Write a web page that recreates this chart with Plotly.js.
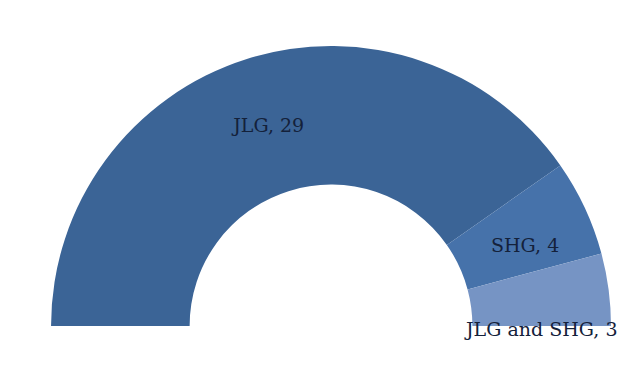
<!DOCTYPE html>
<html>
<head>
<meta charset="utf-8">
<script src="https://cdn.plot.ly/plotly-3.0.1.min.js"></script>
<style>
  html, body { margin: 0; padding: 0; overflow: hidden; background: #ffffff; }
  #chart { width: 644px; height: 652px; }
</style>
</head>
<body>
<div id="chart"></div>
<script>
// Data
const categories = ["JLG", "SHG", "JLG and SHG"];
const counts = [29, 4, 3];
const sliceColors = ["#3b6496", "#4672aa", "#7694c4"];

const total = counts.reduce((a, b) => a + b, 0);

// Half-donut: a hidden slice equal to the total fills the lower half
const labels = categories.concat(["hidden"]);
const values = counts.concat([total]);
const colors = sliceColors.concat(["rgba(0,0,0,0)"]);
// first slice labelled by the pie itself; the two small slices get annotations
const templates = categories.map((c, i) => i === 0 ? "%{label}, %{value}" : "").concat([""]);

const labelFont = { family: "DejaVu Serif, Liberation Serif, serif", size: 19, color: "#14213a" };

const trace = {
  type: "pie",
  labels: labels,
  values: values,
  sort: false,
  direction: "clockwise",
  rotation: -90,
  hole: 0.505,
  marker: { colors: colors, line: { width: 0 } },
  texttemplate: templates,
  textposition: "inside",
  insidetextorientation: "horizontal",
  insidetextfont: labelFont,
  hoverinfo: "skip",
  showlegend: false,
  domain: { x: [0.0792, 0.9488], y: [0.0706, 0.9294] }
};

const labelPos = [null, [0.815, 0.624], [0.84, 0.495]];
const annotations = [];
for (let i = 1; i < categories.length; i++) {
  annotations.push({
    xref: "paper", yref: "paper",
    x: labelPos[i][0], y: labelPos[i][1],
    xanchor: "center", yanchor: "middle",
    text: categories[i] + ", " + counts[i],
    showarrow: false,
    font: labelFont
  });
}

const layout = {
  width: 644,
  height: 652,
  margin: { l: 0, r: 0, t: 0, b: 0 },
  paper_bgcolor: "#ffffff",
  plot_bgcolor: "#ffffff",
  showlegend: false,
  annotations: annotations
};

Plotly.newPlot("chart", [trace], layout, { displayModeBar: false, staticPlot: true });
</script>
</body>
</html>
